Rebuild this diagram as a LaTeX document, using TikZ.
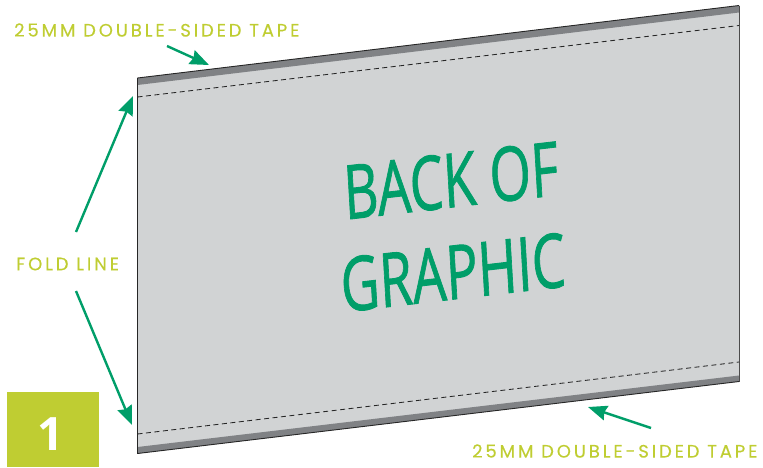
\documentclass[tikz,border=0pt]{standalone}
\usepackage{fontspec}
\setmainfont{Open Sans}
\newfontfamily\handfont[LetterSpace=16,FakeBold=0.3]{Poppins}
\newfontfamily\bigfont[FakeBold=1.2]{Open Sans}
\usetikzlibrary{arrows.meta}
\definecolor{lime}{HTML}{BFCD32}
\definecolor{gr}{HTML}{009E69}
\definecolor{panel}{HTML}{D1D3D4}
\definecolor{tape}{HTML}{808285}
\tikzset{
  lab/.style={text=lime,font=\handfont\fontsize{18}{18}\selectfont,inner sep=0pt,anchor=west},
  arr/.style={draw=gr,line width=2.4pt,-{Stealth[length=19pt,width=15pt,inset=2pt]}},
  dash line/.style={draw=black!85,line width=.85pt,dash pattern=on 5pt off 3.5pt},
  big/.style={text=gr,font=\bigfont\fontsize{75}{75}\selectfont,inner sep=0pt,xscale=.71,rotate=4.7,transform shape},
}
\begin{document}
\begin{tikzpicture}[x=1pt,y=-1pt]
\useasboundingbox (0,0) rectangle (763,467);
% panel
\fill[panel] (137.5,78) -- (739,5.5) -- (739,381.5) -- (137.5,453.5) -- cycle;
\fill[tape] (137.5,78) -- (739,5.5) -- (739,12.5) -- (137.5,85) -- cycle;
\fill[tape] (137.5,447) -- (739,375.5) -- (739,381.5) -- (137.5,453.5) -- cycle;
\draw[black!85,line width=.9pt] (137.5,78) -- (739,5.5);
\draw[black!85,line width=.9pt] (137.5,453.5) -- (739,381.5);
\draw[black!85,line width=1.4pt] (137.5,78) -- (137.5,453.5);
\draw[black!70,line width=.7pt] (739,5.5) -- (739,381.5);
\draw[dash line] (137.5,97) -- (739,25.5);
\draw[dash line] (137.5,434) -- (739,362);
% central text
\node[big] (back) at (451,180.5) {BACK OF};
\node[big] (graphic) at (453,272.5) {GRAPHIC};
% labels
\node[lab] (lt) at (14,30) {25MM DOUBLE-SIDED TAPE};
\node[lab] (lf) at (16,264) {FOLD LINE};
\node[lab] (lb) at (472,451) {25MM DOUBLE-SIDED TAPE};
% step box
\node[fill=lime,minimum width=92pt,minimum height=75pt,inner sep=0pt] (box) at (53,429.5) {};
\node[text=white,inner sep=0pt,font=\bfseries\fontsize{46}{46}\selectfont] (one) at (51,434.5) {1};
% connectors
\coordinate (a1) at (167,46);  \coordinate (t1) at (209,65);
\coordinate (a2) at (76,232);  \coordinate (t2) at (133,96);
\coordinate (a3) at (76,291);  \coordinate (t3) at (132,425);
\coordinate (a4) at (651,428); \coordinate (t4) at (588,407);
\draw[arr] (a1) -- (t1);
\draw[arr] (a2) -- (t2);
\draw[arr] (a3) -- (t3);
\draw[arr] (a4) -- (t4);
\end{tikzpicture}
\end{document}
